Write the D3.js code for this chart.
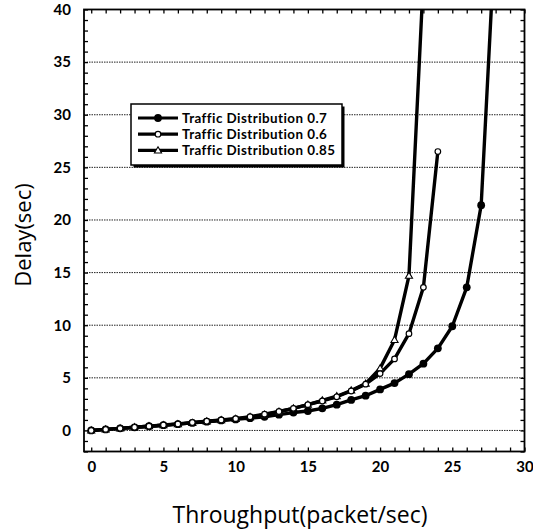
<!DOCTYPE html>
<html><head><meta charset="utf-8">
<script src="https://cdn.jsdelivr.net/npm/d3@7"></script>
<style>
html,body{margin:0;padding:0;background:#fff;}
svg{display:block;font-family:"Lato","Open Sans",sans-serif;}
</style></head>
<body>
<svg id="chart" width="533" height="532"></svg>
<script>
// ---- data ----
const throughputA = d3.range(0, 29);   // 0..28
const delay07 = [0.0,0.1,0.2,0.3,0.4,0.5,0.6,0.72,0.83,0.95,1.05,1.17,1.3,1.5,1.7,1.85,2.1,2.45,2.9,3.3,3.9,4.5,5.35,6.35,7.8,9.9,13.6,21.4,48];
const throughputB = d3.range(0, 25);   // 0..24
const delay06 = [0.0,0.1,0.2,0.3,0.4,0.52,0.62,0.75,0.88,1.0,1.12,1.3,1.55,1.8,2.1,2.45,2.8,3.2,3.75,4.4,5.4,6.8,9.2,13.6,26.5];
const throughputC = d3.range(0, 24);   // 0..23
const delay085 = [0.0,0.1,0.2,0.3,0.4,0.5,0.6,0.72,0.85,0.97,1.1,1.27,1.5,1.78,2.1,2.45,2.85,3.25,3.8,4.45,5.9,8.6,14.7,43];
const seriesNames = ["Traffic Distribution 0.7","Traffic Distribution 0.6","Traffic Distribution 0.85"];
const xTicks = [0,5,10,15,20,25,30];
const yTicks = [0,5,10,15,20,25,30,35,40];
const xLabel = "Throughput(packet/sec)";
const yLabel = "Delay(sec)";

const series = [
  {name: seriesNames[0], xs: throughputA, ys: delay07, marker: "filled"},
  {name: seriesNames[1], xs: throughputB, ys: delay06, marker: "open"},
  {name: seriesNames[2], xs: throughputC, ys: delay085, marker: "triangle"}
];

const svg = d3.select("#chart");
const L = 84, R = 524.5, T = 9.5, B = 451.5;
const x = d3.scaleLinear().domain([-0.5, 30]).range([L, R]);
const y = d3.scaleLinear().domain([-2, 40]).range([B, T]);

// gridlines
svg.append("g").selectAll("line").data(yTicks.filter(d => d < 40)).join("line")
  .attr("x1", L).attr("x2", R)
  .attr("y1", d => y(d)).attr("y2", d => y(d))
  .attr("stroke", "#222").attr("stroke-width", 1).attr("stroke-dasharray", "1.5,1");

// axes (ticks inward)
const fmtX = d => (xTicks.includes(d) ? d : "");
const fmtY = d => (yTicks.includes(d) ? d : "");
const gxB = svg.append("g").attr("transform", `translate(0,${B})`)
  .call(d3.axisBottom(x).tickValues(d3.range(0, 31)).tickSize(-4).tickPadding(10).tickFormat(fmtX));
const gxT = svg.append("g").attr("transform", `translate(0,${T})`)
  .call(d3.axisTop(x).tickValues(d3.range(0, 31)).tickSize(-4).tickFormat(""));
const gyL = svg.append("g").attr("transform", `translate(${L},0)`)
  .call(d3.axisLeft(y).tickValues(d3.range(-2, 41)).tickSize(-4).tickPadding(13).tickFormat(fmtY));
const gyR = svg.append("g").attr("transform", `translate(${R},0)`)
  .call(d3.axisRight(y).tickValues(d3.range(-2, 41)).tickSize(-4).tickFormat(""));
[gxB, gxT, gyL, gyR].forEach(g => {
  g.select(".domain").remove();
  g.selectAll(".tick line").attr("stroke", "#000").attr("stroke-width", 1.3);
  g.selectAll("text").attr("fill", "#000").attr("font-size", 15).attr("font-weight", "bold")
    .attr("font-family", "Lato, 'Open Sans', sans-serif");
});

// clip
svg.append("clipPath").attr("id", "plotclip").append("rect")
  .attr("x", L).attr("y", T).attr("width", R - L).attr("height", B - T);

const line = d3.line().x(d => x(d[0])).y(d => y(d[1]));
const plot = svg.append("g").attr("clip-path", "url(#plotclip)");

function drawMarker(g, type, cx, cy) {
  if (type === "filled") {
    g.append("circle").attr("cx", cx).attr("cy", cy).attr("r", 3.9).attr("fill", "#000");
  } else if (type === "open") {
    g.append("circle").attr("cx", cx).attr("cy", cy).attr("r", 2.8)
      .attr("fill", "#fff").attr("stroke", "#000").attr("stroke-width", 1.2);
  } else {
    g.append("path").attr("d", d3.symbol().type(d3.symbolTriangle).size(22)())
      .attr("transform", `translate(${cx},${cy + 0.5})`)
      .attr("fill", "#fff").attr("stroke", "#000").attr("stroke-width", 1.1);
  }
}

series.forEach(s => {
  const pts = s.xs.map((v, i) => [v, s.ys[i]]);
  plot.append("path").datum(pts).attr("d", line)
    .attr("fill", "none").attr("stroke", "#000").attr("stroke-width", 3.4)
    .attr("stroke-linejoin", "round");
});
// markers drawn after all lines
[series[0], series[2], series[1]].forEach(s => {
  const mg = plot.append("g");
  s.xs.forEach((v, i) => {
    if (s.ys[i] <= 40) drawMarker(mg, s.marker, x(v), y(s.ys[i]));
  });
});

// frame
svg.append("rect").attr("x", L).attr("y", T).attr("width", R - L).attr("height", B - T)
  .attr("fill", "none").attr("stroke", "#000").attr("stroke-width", 1.8);

// legend
const lg = svg.append("g");
const lx = 131, ly = 104, lw = 211, lh = 61;
lg.append("rect").attr("x", lx + 2.5).attr("y", ly + 2.5).attr("width", lw).attr("height", lh).attr("fill", "#000");
lg.append("rect").attr("x", lx).attr("y", ly).attr("width", lw).attr("height", lh)
  .attr("fill", "#fff").attr("stroke", "#000").attr("stroke-width", 1.5);
series.forEach((s, i) => {
  const yy = ly + 14 + i * 16.2;
  lg.append("line").attr("x1", lx + 7).attr("x2", lx + 47).attr("y1", yy).attr("y2", yy)
    .attr("stroke", "#000").attr("stroke-width", 3.2);
  drawMarker(lg, s.marker, lx + 27, yy);
  lg.append("text").attr("x", lx + 51).attr("y", yy).attr("dy", "0.36em")
    .attr("font-size", 13.4).attr("font-weight", "bold").attr("fill", "#000")
    .attr("letter-spacing", 0.45)
    .text(s.name);
});

// axis titles
svg.append("text").attr("x", 300).attr("y", 523).attr("text-anchor", "middle")
  .attr("font-size", 23).attr("fill", "#000").attr("font-family", "'Open Sans', sans-serif").text(xLabel);
svg.append("text").attr("transform", "translate(31,235) rotate(-90)").attr("text-anchor", "middle")
  .attr("font-size", 22).attr("fill", "#000").attr("font-family", "'Open Sans', sans-serif").text(yLabel);
</script>
</body></html>
